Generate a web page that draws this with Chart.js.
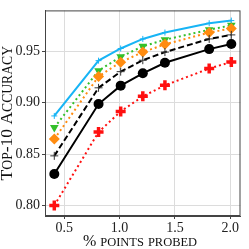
<!DOCTYPE html>
<html>
<head>
<meta charset="utf-8">
<script src="https://cdn.jsdelivr.net/npm/chart.js@4.4.0/dist/chart.umd.min.js"></script>
<style>
  html, body { margin: 0; padding: 0; background: #fff; }
  #wrap { width: 249px; height: 249px; }
</style>
</head>
<body>
<div id="wrap"><canvas id="accChart" width="249" height="249"></canvas></div>
<script>
// values
const xPoints = [0.41, 0.81, 1.01, 1.21, 1.41, 1.81, 2.01];
const cyanVals   = [0.887, 0.9407, 0.9525, 0.9618, 0.968, 0.977, 0.9796];
const greenVals  = [0.8757, 0.931, 0.9444, 0.9546, 0.961, 0.9707, 0.975];
const orangeVals = [0.8645, 0.9254, 0.9392, 0.949, 0.9565, 0.968, 0.972];
const dashedVals = [0.8482, 0.9143, 0.930, 0.9411, 0.949, 0.9618, 0.9657];
const blackVals  = [0.8306, 0.8985, 0.9164, 0.9284, 0.9386, 0.9519, 0.9568];
const redVals    = [0.800, 0.8713, 0.8914, 0.906, 0.9167, 0.933, 0.9395];
const xTicks = [0.5, 1.0, 1.5, 2.0];
const yTicks = [0.80, 0.85, 0.90, 0.95];
const xTitle = "% points probed";
const yTitle = "Top-10 Accuracy";

const serif = "'Liberation Serif', 'DejaVu Serif', serif";

function pts(vals) {
  return vals.map((v, i) => ({ x: xPoints[i], y: v }));
}

// small caps by hand: capitals full size, the rest upper-cased and smaller
function smallCaps(ctx, text, size, x, y) {
  const parts = [];
  let total = 0;
  for (const ch of text) {
    const isCap = ch !== ch.toLowerCase() || !/[a-z]/.test(ch);
    const s = isCap ? size : size * 0.78;
    ctx.font = s + "px " + serif;
    const w = ctx.measureText(ch.toUpperCase()).width;
    parts.push({ c: ch.toUpperCase(), s: s, w: w });
    total += w;
  }
  let cx = x - total / 2;
  for (const p of parts) {
    ctx.font = p.s + "px " + serif;
    ctx.fillText(p.c, cx, y);
    cx += p.w;
  }
}

const frameAndTitles = {
  id: "frameAndTitles",
  afterDraw(chart) {
    const { ctx, chartArea: a } = chart;
    ctx.save();
    ctx.strokeStyle = "#444";
    ctx.lineWidth = 1;
    ctx.strokeRect(a.left + 0.5, a.top + 0.5, a.right - a.left - 1, a.bottom - a.top - 1);
    ctx.fillStyle = "#111";
    ctx.textAlign = "left";
    ctx.textBaseline = "alphabetic";
    smallCaps(ctx, xTitle, 16, 140, 246);
    ctx.translate(12, (a.top + a.bottom) / 2);
    ctx.rotate(-Math.PI / 2);
    smallCaps(ctx, yTitle, 17.5, 0, 0);
    ctx.restore();
  }
};

new Chart(document.getElementById("accChart"), {
  type: "line",
  data: {
    datasets: [
      {
        data: pts(redVals), borderColor: "#ff1010", borderWidth: 2, borderDash: [2, 3],
        pointStyle: "cross", pointRadius: 5, pointBorderWidth: 3.5,
        pointBorderColor: "#ff1010", pointBackgroundColor: "#ff1010"
      },
      {
        data: pts(blackVals), borderColor: "#000", borderWidth: 2,
        pointStyle: "circle", pointRadius: 5, pointBorderWidth: 0,
        pointBackgroundColor: "#000"
      },
      {
        data: pts(dashedVals), borderColor: "#000", borderWidth: 2, borderDash: [6, 3],
        pointStyle: "cross", pointRadius: 4, pointBorderWidth: 1,
        pointBorderColor: "#333"
      },
      {
        data: pts(orangeVals), borderColor: "#ff8c10", borderWidth: 2, borderDash: [2, 3],
        pointStyle: "rectRot", pointRadius: 5.5, pointBorderWidth: 0,
        pointBackgroundColor: "#ff8c10"
      },
      {
        data: pts(greenVals), borderColor: "#33c02a", borderWidth: 2, borderDash: [2, 3],
        pointStyle: "triangle", rotation: 180, pointRadius: 5, pointBorderWidth: 0,
        pointBackgroundColor: "#33c02a"
      },
      {
        data: pts(cyanVals), borderColor: "#17b4f5", borderWidth: 2,
        pointStyle: "cross", pointRadius: 3, pointBorderWidth: 1,
        pointBorderColor: "#17b4f5"
      }
    ]
  },
  options: {
    responsive: false,
    animation: false,
    layout: { padding: { top: 1, right: 1, left: 0, bottom: 0 } },
    plugins: { legend: { display: false }, tooltip: { enabled: false } },
    elements: { line: { tension: 0, fill: false } },
    scales: {
      x: {
        type: "linear", min: 0.326, max: 2.093,
        afterBuildTicks: s => { s.ticks = xTicks.map(v => ({ value: v })); },
        afterFit: s => { s.height = 33; },
        grid: { color: "#dcdcdc", tickColor: "#444", tickLength: 3 },
        border: { color: "#444" },
        ticks: {
          color: "#222", padding: 1, maxRotation: 0,
          font: { family: serif, size: 14 },
          callback: v => v.toFixed(1)
        }
      },
      y: {
        type: "linear", min: 0.7898, max: 0.9895,
        afterBuildTicks: s => { s.ticks = yTicks.map(v => ({ value: v })); },
        afterFit: s => { s.width = 45; },
        grid: { color: "#dcdcdc", tickColor: "#444", tickLength: 3 },
        border: { color: "#444" },
        ticks: {
          color: "#222", padding: 2,
          font: { family: serif, size: 14 },
          callback: v => v.toFixed(2)
        }
      }
    }
  },
  plugins: [frameAndTitles]
});
</script>
</body>
</html>
